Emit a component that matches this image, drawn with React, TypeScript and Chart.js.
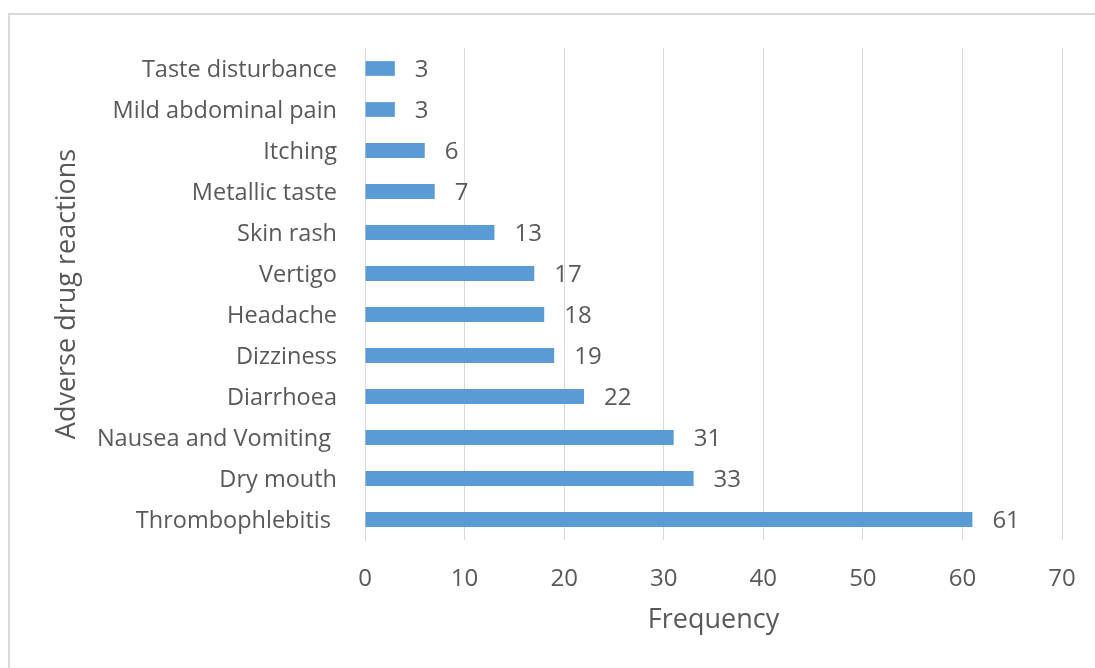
import React, { useEffect, useRef } from "react";
import { Chart, registerables } from "chart.js";

Chart.register(...registerables);

const categories = [
  "Taste disturbance",
  "Mild abdominal pain",
  "Itching",
  "Metallic taste",
  "Skin rash",
  "Vertigo",
  "Headache",
  "Dizziness",
  "Diarrhoea",
  "Nausea and Vomiting ",
  "Dry mouth",
  "Thrombophlebitis ",
];
const frequencies = [3, 3, 6, 7, 13, 17, 18, 19, 22, 31, 33, 61];
const xTicks = [0, 10, 20, 30, 40, 50, 60, 70];

const FONT = "'Open Sans'";
const TEXT = "#595959";
const GRID = "#d9d9d9";

const labelPlugin = {
  id: "barLabels",
  afterDatasetsDraw(chart: any) {
    const ctx = chart.ctx;
    const meta = chart.getDatasetMeta(0);
    ctx.save();
    ctx.font = `24px ${FONT}`;
    ctx.fillStyle = TEXT;
    ctx.textAlign = "left";
    ctx.textBaseline = "middle";
    meta.data.forEach((el: any, i: number) => {
      ctx.fillText(String(frequencies[i]), el.x + 20, el.y + 2);
    });
    ctx.restore();
  },
};

export default function App() {
  const ref = useRef<HTMLCanvasElement>(null);
  useEffect(() => {
    document.body.style.margin = "0";
    const chart = new Chart(ref.current!, {
      type: "bar",
      data: {
        labels: categories,
        datasets: [
          {
            data: frequencies,
            backgroundColor: "#5B9BD5",
            barPercentage: 0.9,
            categoryPercentage: 0.4,
          },
        ],
      },
      plugins: [labelPlugin],
      options: {
        indexAxis: "y",
        animation: false,
        responsive: false,
        maintainAspectRatio: false,
        layout: { padding: { top: 48, right: 33, left: 0, bottom: 0 } },
        plugins: { legend: { display: false }, tooltip: { enabled: false } },
        scales: {
          x: {
            min: 0,
            max: 70,
            afterBuildTicks: (axis: any) => {
              axis.ticks = xTicks.map((v) => ({ value: v }));
            },
            afterFit: (axis: any) => {
              axis.height = 128;
              axis.paddingLeft = 0;
              axis.paddingRight = 0;
            },
            grid: { color: GRID, lineWidth: 1, drawTicks: false },
            border: { display: false },
            ticks: {
              color: TEXT,
              font: { family: FONT, size: 24 },
              padding: 25,
            },
            title: {
              display: true,
              text: "Frequency",
              color: TEXT,
              font: { family: FONT, size: 27 },
              padding: { top: 0, bottom: 31 },
            },
          },
          y: {
            afterFit: (axis: any) => {
              axis.width = 365;
            },
            grid: { display: false, drawTicks: false },
            border: { display: true, color: GRID, width: 1 },
            ticks: {
              color: TEXT,
              font: { family: FONT, size: 23.5 },
              padding: 28,
              labelOffset: 2,
            },
            title: {
              display: true,
              text: "Adverse drug reactions",
              color: TEXT,
              font: { family: FONT, size: 27 },
              padding: { top: 51, bottom: 0 },
            },
          },
        },
      },
    });
    return () => chart.destroy();
  }, []);

  return (
    <div style={{ position: "relative", width: 1095, height: 668, overflow: "hidden", background: "#fff" }}>
      <div
        style={{
          position: "absolute",
          left: 8,
          top: 13,
          width: 1200,
          height: 800,
          border: `2px solid ${GRID}`,
          boxSizing: "border-box",
        }}
      />
      <canvas ref={ref} width={1095} height={668} style={{ position: "absolute", left: 0, top: 0 }} />
    </div>
  );
}
